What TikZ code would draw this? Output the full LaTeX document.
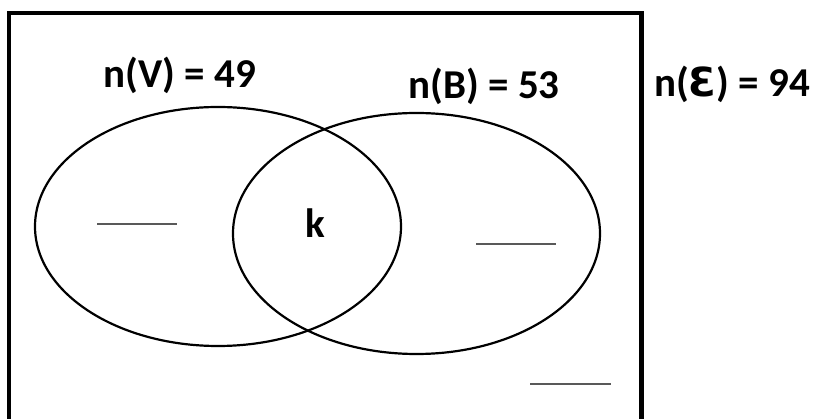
\documentclass[tikz,border=0pt]{standalone}
\usepackage{fontspec}
\setmainfont{Carlito}
\newfontfamily\symfont{DejaVu Sans}
\begin{document}
\begin{tikzpicture}[x=1pt,y=-1pt,
  lbl/.style={font=\fontsize{41}{45}\selectfont\bfseries, inner sep=0pt},
  blank/.style={draw=black!65, line width=1.6pt},
  setline/.style={draw=black, line width=2.2pt}]
\useasboundingbox (0,0) rectangle (816,419);
\fill[white] (0,0) rectangle (816,419);
\begin{scope}
\clip (0,0) rectangle (816,419);
\draw[line width=4.6pt] (9,440) -- (9,13) -- (641.5,13) -- (641.5,440);
\end{scope}
\draw[setline] (218,226.5) ellipse [x radius=183, y radius=119.5];
\draw[setline] (416.5,233.5) ellipse [x radius=183.5, y radius=120.5];
\node[lbl] (nv) at (180,75) {n(V) = 49};
\node[lbl] (nb) at (484,86) {n(B) = 53};
\node[lbl] (ne) at (732,84) {n({\symfont\bfseries\fontsize{40}{44}\selectfont Ɛ}) = 94};
\node[lbl] (k) at (315,223) {k};
\draw[blank] (97,224) -- (177,224);
\draw[blank] (476,244) -- (556,244);
\draw[blank] (530,384) -- (611,384);
\end{tikzpicture}
\end{document}
